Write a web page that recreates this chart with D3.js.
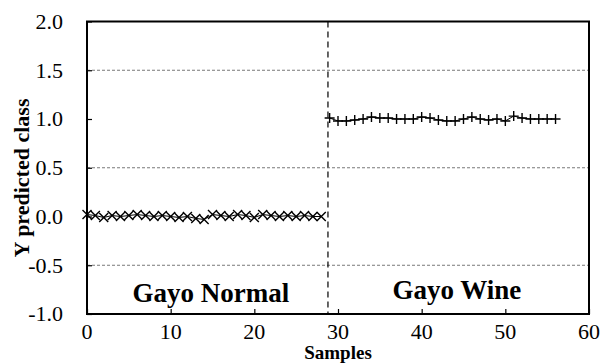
<!DOCTYPE html>
<html><head><meta charset="utf-8">
<script src="https://cdn.jsdelivr.net/npm/d3@7/dist/d3.min.js"></script>
<style>body{margin:0;background:#fff}svg{display:block}</style>
</head><body><svg id="c" width="602" height="364"></svg>
<script>
const normalX = d3.range(0, 29);
const normalY = [0.02,0.01,-0.01,0.01,0.00,0.01,0.02,0.01,0.00,0.01,0.00,-0.01,0.00,-0.02,-0.03,0.02,0.01,0.00,0.02,0.01,-0.01,0.02,0.01,0.00,0.01,0.00,0.01,0.00,0.00];
const wineX = d3.range(29, 57);
const wineY = [1.01,0.98,0.98,0.99,1.00,1.02,1.01,1.01,1.00,1.00,1.00,1.02,1.01,0.99,0.98,0.98,1.00,1.02,1.00,0.99,1.00,0.98,1.03,1.01,1.00,1.00,1.00,1.00];
const xTicks = [0,10,20,30,40,50,60];
const xTickLabels = ["0","10","20","30","40","50","60"];
const yTicks = [-1.0,-0.5,0.0,0.5,1.0,1.5,2.0];
const yTickLabels = ["-1.0","-0.5","0.0","0.5","1.0","1.5","2.0"];
const gridVals = [-0.5,0.5,1.5];
const divider = 28.8;
const groupLabels = ["Gayo Normal","Gayo Wine"];
const groupLabelX = [14.8, 44.2];

const FONT = '"Liberation Serif"';
const svg = d3.select("#c");
const L=87,R=589,T=21.5,B=314;
const x = d3.scaleLinear().domain([0,60]).range([L,R]);
const y = d3.scaleLinear().domain([-1,2]).range([B,T]);

// gridlines
svg.append("g").selectAll("line").data(gridVals).join("line")
  .attr("x1",L).attr("x2",R).attr("y1",d=>y(d)).attr("y2",d=>y(d))
  .attr("stroke","#555").attr("stroke-width",0.8).attr("stroke-dasharray","3,2");

// axes (tick marks)
const ya = svg.append("g").attr("transform",`translate(${L},0)`)
  .call(d3.axisLeft(y).tickValues(yTicks).tickFormat("").tickSizeInner(-5).tickSizeOuter(0));
ya.select(".domain").remove();
ya.selectAll("text").remove();
ya.selectAll("line").attr("stroke","#000").attr("stroke-width",1.2);
const xa = svg.append("g").attr("transform",`translate(0,${B})`)
  .call(d3.axisBottom(x).tickValues(xTicks).tickFormat("").tickSizeInner(-5).tickSizeOuter(0));
xa.select(".domain").remove();
xa.selectAll("text").remove();
xa.selectAll("line").attr("stroke","#000").attr("stroke-width",1.2);

// tick labels
svg.append("g").selectAll("text").data(yTicks).join("text")
  .attr("x",L-24).attr("y",d=>y(d)).attr("dy","0.34em").attr("text-anchor","end")
  .style("font-family",FONT).style("font-size","22px").attr("fill","#000")
  .text((d,i)=>yTickLabels[i]);
svg.append("g").selectAll("text").data(xTicks).join("text")
  .attr("x",d=>x(d)).attr("y",B+25).attr("text-anchor","middle")
  .style("font-family",FONT).style("font-size","22px").attr("fill","#000")
  .text((d,i)=>xTickLabels[i]);

// divider
svg.append("line").attr("x1",x(divider)).attr("x2",x(divider)).attr("y1",T).attr("y2",B)
  .attr("stroke","#000").attr("stroke-width",1.2).attr("stroke-dasharray","6,4");

// series
const normal = normalX.map((v,i)=>[v,normalY[i]]);
const wine = wineX.map((v,i)=>[v,wineY[i]]);
const line = d3.line().x(d=>x(d[0])).y(d=>y(d[1]));
svg.append("path").attr("d",line(normal)).attr("fill","none").attr("stroke","#000").attr("stroke-width",1);
svg.append("path").attr("d",line(wine)).attr("fill","none").attr("stroke","#000").attr("stroke-width",1);
svg.append("g").selectAll("path").data(normal).join("path")
  .attr("d",d=>{const cx=x(d[0]),cy=y(d[1]),s=4.5;return `M${cx-s},${cy-s}L${cx+s},${cy+s}M${cx-s},${cy+s}L${cx+s},${cy-s}`;})
  .attr("stroke","#000").attr("stroke-width",1.4);
svg.append("g").selectAll("path").data(wine).join("path")
  .attr("d",d=>{const cx=x(d[0]),cy=y(d[1]),s=5;return `M${cx-s},${cy}L${cx+s},${cy}M${cx},${cy-s}L${cx},${cy+s}`;})
  .attr("stroke","#000").attr("stroke-width",1.4);

// border
svg.append("rect").attr("x",L).attr("y",T).attr("width",R-L).attr("height",B-T)
  .attr("fill","none").attr("stroke","#000").attr("stroke-width",2);

// group labels
svg.append("g").selectAll("text").data(groupLabels).join("text")
  .attr("x",(d,i)=>x(groupLabelX[i])).attr("y",(d,i)=>i===0?302:299)
  .attr("text-anchor","middle").style("font-family",FONT).style("font-size","27px").style("font-weight","bold").text(d=>d);

// axis titles
svg.append("text").attr("x",x(30)).attr("y",359).attr("text-anchor","middle")
  .style("font-family",FONT).style("font-size","19px").style("font-weight","bold").text("Samples");
svg.append("text").attr("transform","translate(29,178) rotate(-90)").attr("text-anchor","middle")
  .style("font-family",FONT).style("font-size","22px").style("font-weight","bold").text("Y predicted class");
</script></body></html>
